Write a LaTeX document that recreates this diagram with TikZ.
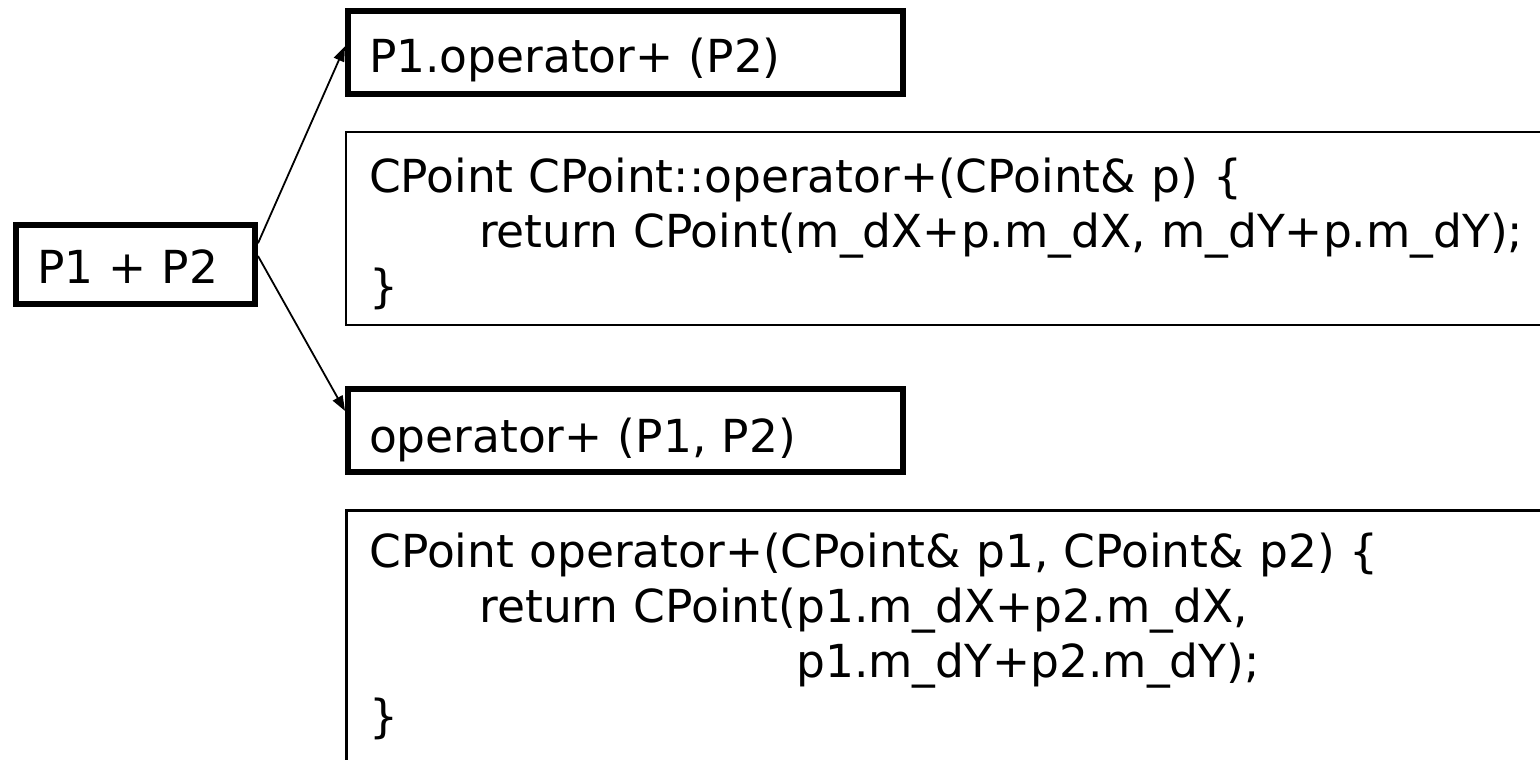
\documentclass[tikz,border=0pt]{standalone}
\usepackage{fontspec}
\setmainfont{DejaVu Sans}
\usetikzlibrary{arrows.meta,calc}
\tikzset{
  txt/.style={font=\fontsize{45.5}{55}\selectfont, align=left, anchor=north west, inner ysep=0pt},
  thickbox/.style={txt, draw=black, line width=6pt, inner xsep=21pt},
  codebox/.style={txt, draw=black, inner xsep=23pt, text width=1200pt},
  conn/.style={line width=1.8pt, -{Triangle[length=15pt,width=11pt]}}
}
\begin{document}
\begin{tikzpicture}[x=1pt,y=-1pt]
\useasboundingbox (0,0) rectangle (1540,760);
\clip (0,0) rectangle (1540,760);
\fill[white] (0,0) rectangle (1540,760);

\node[thickbox, text width=197pt, text height=58pt, text depth=21pt] (p12) at (13,222) {P1 + P2};

\node[thickbox, text width=513pt, text height=62pt, text depth=21pt] (mem) at (345,8) {P1.operator+ (P2)};

\node[codebox, line width=2pt, text height=60pt, text depth=133pt] (code1) at (345,131)
  {CPoint CPoint::operator+(CPoint\& p) \{\\
   \hspace*{110pt}return CPoint(m\_dX+p.m\_dX, m\_dY+p.m\_dY);\\
   \}};

\node[thickbox, text width=513pt, text height=63pt, text depth=20pt] (glob) at (345,386) {operator+ (P1, P2)};

\node[codebox, line width=3pt, text height=57pt, text depth=400pt] (code2) at (345,509)
  {CPoint operator+(CPoint\& p1, CPoint\& p2) \{\\
   \hspace*{110pt}return CPoint(p1.m\_dX+p2.m\_dX,\\
   \hspace*{110pt}\phantom{return CPoint(}p1.m\_dY+p2.m\_dY);\\
   \}};

\draw[conn] ($(p12.north east)!0.25!(p12.south east)$) -- ($(mem.north west)!0.43!(mem.south west)$);
\draw[conn] ($(p12.north east)!0.40!(p12.south east)$) -- ($(glob.north west)!0.28!(glob.south west)$);
\end{tikzpicture}
\end{document}
